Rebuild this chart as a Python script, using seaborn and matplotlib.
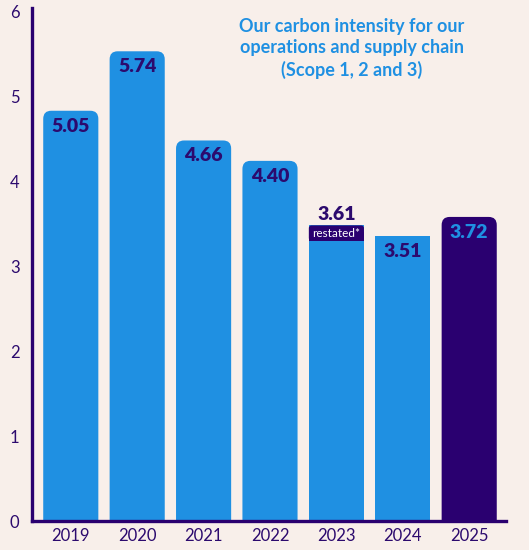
import matplotlib
matplotlib.use("Agg")
import matplotlib.pyplot as plt
from matplotlib.patches import FancyBboxPatch
import seaborn as sns
import pandas as pd

years = ["2019", "2020", "2021", "2022", "2023", "2024", "2025"]
bar_heights = [4.83, 5.53, 4.48, 4.24, 3.48, 3.35, 3.58]
value_labels = ["5.05", "5.74", "4.66", "4.40", "3.61", "3.51", "3.72"]
rounded = [True, True, True, True, False, False, True]
yticks = [0, 1, 2, 3, 4, 5, 6]

BG = "#f8efea"
BLUE = "#1f90e2"
PURPLE = "#2a0070"
TXT = "#2c0a6e"

sns.set_theme(style="white")
plt.rcParams["font.family"] = ["Lato", "DejaVu Sans"]

fig = plt.figure(figsize=(5.29, 5.5), dpi=100, facecolor=BG)
ax = fig.add_axes([0.0605, 0.0527, 0.896, 0.9328])
ax.set_facecolor(BG)

df = pd.DataFrame({"year": years, "h": bar_heights})
colors = [BLUE] * 6 + [PURPLE]
sns.barplot(data=df, x="year", y="h", hue="year", palette=colors, legend=False,
            width=0.83, ax=ax, saturation=1)

ax.set_xlim(-0.584, 6.554)
ax.set_ylim(0, 6.04)
ax.set_yticks(yticks)
ax.set_xlabel("")
ax.set_ylabel("")

ma = 0.79
for i, p in enumerate(list(ax.patches)):
    x, w, h = p.get_x(), p.get_width(), p.get_height()
    fc = p.get_facecolor()
    p.set_visible(False)
    if rounded[i]:
        bb = FancyBboxPatch((x, -0.4), w, h + 0.4,
                            boxstyle="round,pad=0,rounding_size=0.12",
                            mutation_aspect=ma, facecolor=fc, edgecolor="none",
                            clip_on=True, zorder=2)
    else:
        bb = FancyBboxPatch((x, 0), w, h, boxstyle="square,pad=0",
                            facecolor=fc, edgecolor="none", zorder=2)
    ax.add_patch(bb)
    cx = x + w / 2
    if years[i] == "2023":
        tag = FancyBboxPatch((x, h - 0.18), w, 0.18,
                             boxstyle="round,pad=0,rounding_size=0.04",
                             mutation_aspect=ma, facecolor=PURPLE, edgecolor="none",
                             zorder=3)
        ax.add_patch(tag)
        ax.add_patch(FancyBboxPatch((x, h - 0.18), w, 0.1, boxstyle="square,pad=0",
                                    facecolor=PURPLE, edgecolor="none", zorder=3))
        ax.text(cx, h - 0.09, "restated*", ha="center", va="center",
                color="white", fontsize=8.5, zorder=4)
        ax.text(cx, h + 0.13, value_labels[i], ha="center", va="center",
                color=TXT, fontsize=14, fontweight="heavy", zorder=4)
    else:
        col = BLUE if years[i] == "2025" else TXT
        ax.text(cx, h - 0.18, value_labels[i], ha="center", va="center",
                color=col, fontsize=14, fontweight="heavy", zorder=4)

for s in ["top", "right"]:
    ax.spines[s].set_visible(False)
for s in ["left", "bottom"]:
    ax.spines[s].set_color(PURPLE)
    ax.spines[s].set_linewidth(2.4)
ax.tick_params(axis="both", length=0, colors=TXT, labelsize=12)
ax.tick_params(axis="y", pad=9)
ax.tick_params(axis="x", pad=5)
for lab in ax.get_xticklabels() + ax.get_yticklabels():
    lab.set_color(TXT)

ax.text(0.675, 0.98, "Our carbon intensity for our\noperations and supply chain\n(Scope 1, 2 and 3)",
        transform=ax.transAxes, ha="center", va="top", color=BLUE,
        fontsize=13, fontweight="bold", linespacing=1.3)

fig.savefig("out.png", dpi=100, facecolor=BG)
